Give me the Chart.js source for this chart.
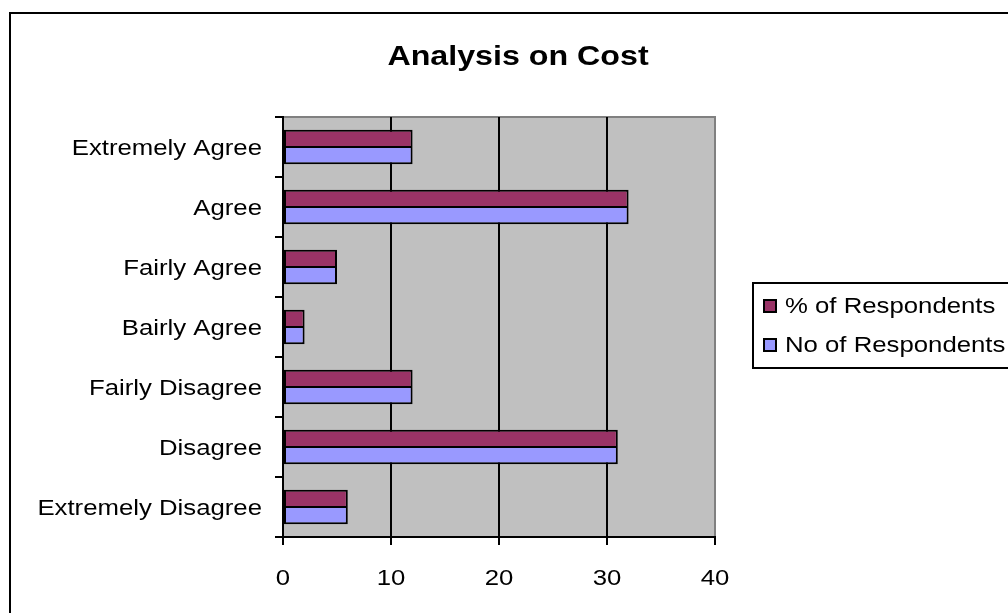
<!DOCTYPE html>
<html>
<head>
<meta charset="utf-8">
<title>Analysis on Cost</title>
<script src="https://cdn.jsdelivr.net/npm/chart.js@4.4.1/dist/chart.umd.min.js"></script>
<style>
  html, body { margin: 0; padding: 0; background: #ffffff; overflow: hidden; }
  #wrap { position: relative; width: 1008px; height: 613px; overflow: hidden; }
  #frame { position: absolute; left: 9px; top: 12px; width: 1200px; height: 800px;
           border: 2px solid #000; box-sizing: border-box; }
  canvas { position: absolute; left: 0; top: 0; }
</style>
</head>
<body>
<div id="wrap">
  <div id="frame"></div>
  <canvas id="c" width="1008" height="613"></canvas>
</div>
<script>
// Response categories, top to bottom
const categories = [
  'Extremely Agree', 'Agree', 'Fairly Agree', 'Bairly Agree',
  'Fairly Disagree', 'Disagree', 'Extremely Disagree'
];
// Series values
const pctRespondents = [12, 32, 5, 2, 12, 31, 6];
const noRespondents  = [12, 32, 5, 2, 12, 31, 6];
// Value axis tick labels
const xTicks = [0, 10, 20, 30, 40];

const chartTitle = 'Analysis on Cost';
const FONT = '"Liberation Sans", Arial, sans-serif';
const WIDE = 1.17;   // horizontal widening applied to all text

// Draw text widened horizontally around its anchor point
function wideText(ctx, text, x, y, align, sx) {
  ctx.save();
  ctx.translate(x, y);
  ctx.scale(sx, 1);
  ctx.textAlign = align;
  ctx.textBaseline = 'middle';
  ctx.fillText(text, 0, 0);
  ctx.restore();
}

// Grey plot background with a grey top edge
const plotBackground = {
  id: 'plotBackground',
  beforeDraw(chart) {
    const { ctx, chartArea: a } = chart;
    ctx.save();
    ctx.fillStyle = '#C0C0C0';
    ctx.fillRect(a.left, a.top, a.right - a.left, a.bottom - a.top);
    ctx.strokeStyle = '#808080';
    ctx.lineWidth = 2;
    ctx.beginPath();
    ctx.moveTo(a.left, a.top);
    ctx.lineTo(a.right + 1, a.top);
    ctx.stroke();
    ctx.restore();
  }
};

// Axis labels placed from the scales' own tick positions
const axisLabels = {
  id: 'axisLabels',
  afterDraw(chart) {
    const ctx = chart.ctx;
    const ys = chart.scales.y, xs = chart.scales.x;
    ctx.save();
    ctx.fillStyle = '#000';
    ctx.font = '22px ' + FONT;
    ys.ticks.forEach((t, i) => {
      wideText(ctx, ys.getLabelForValue(t.value), ys.right - 21, ys.getPixelForTick(i) + 2, 'right', WIDE);
    });
    xs.ticks.forEach((t, i) => {
      wideText(ctx, String(t.value), xs.getPixelForTick(i), xs.top + 42, 'center', WIDE);
    });
    ctx.restore();
  }
};

// Title text above the plot
const titleText = {
  id: 'titleText',
  afterDraw(chart) {
    const ctx = chart.ctx;
    ctx.save();
    ctx.fillStyle = '#000';
    ctx.font = 'bold 28px ' + FONT;
    wideText(ctx, chartTitle, 518, 57, 'center', 1.15);
    ctx.restore();
  }
};

// Boxed legend to the right of the plot, built from the datasets
const boxedLegend = {
  id: 'boxedLegend',
  afterDraw(chart) {
    const ctx = chart.ctx;
    const left = 753, top = 283, bottom = 368;
    ctx.save();
    ctx.strokeStyle = '#000';
    ctx.lineWidth = 2;
    ctx.strokeRect(left, top, 400, bottom - top);
    ctx.font = '22px ' + FONT;
    chart.data.datasets.forEach((ds, i) => {
      const cy = 306 + i * 39;
      ctx.fillStyle = ds.backgroundColor;
      ctx.fillRect(764, cy - 6, 12, 12);
      ctx.lineWidth = 2;
      ctx.strokeRect(764, cy - 6, 12, 12);
      ctx.fillStyle = '#000';
      wideText(ctx, ds.label, 785, cy + 1, 'left', WIDE);
    });
    ctx.restore();
  }
};

new Chart(document.getElementById('c'), {
  type: 'bar',
  data: {
    labels: categories,
    datasets: [
      {
        label: '% of Respondents',
        data: pctRespondents,
        backgroundColor: '#993366',
        borderColor: '#000',
        borderWidth: { top: 2, bottom: 1, left: 2, right: 2 },
        borderSkipped: false,
        categoryPercentage: 0.571,
        barPercentage: 1.0
      },
      {
        label: 'No of Respondents',
        data: noRespondents,
        backgroundColor: '#9999FF',
        borderColor: '#000',
        borderWidth: { top: 1, bottom: 2, left: 2, right: 2 },
        borderSkipped: false,
        categoryPercentage: 0.571,
        barPercentage: 1.0
      }
    ]
  },
  options: {
    indexAxis: 'y',
    responsive: false,
    animation: false,
    devicePixelRatio: 1,
    layout: { padding: { left: 0, right: 293, top: 117, bottom: 26 } },
    plugins: {
      legend: { display: false },
      title: { display: false },
      tooltip: { enabled: false }
    },
    scales: {
      x: {
        type: 'linear',
        min: xTicks[0],
        max: xTicks[xTicks.length - 1],
        afterBuildTicks(scale) { scale.ticks = xTicks.map(v => ({ value: v })); },
        afterFit(scale) { scale.height = 50; },
        grid: {
          color: ctx => (ctx.tick && ctx.tick.value === 40) ? '#808080' : '#000',
          lineWidth: 2,
          drawTicks: true,
          tickLength: 8,
          tickColor: '#000'
        },
        border: { display: true, color: '#000', width: 2 },
        ticks: { display: false }
      },
      y: {
        type: 'category',
        offset: true,
        afterFit(scale) { scale.width = 283; },
        grid: {
          display: true,
          offset: true,
          drawOnChartArea: false,
          drawTicks: true,
          tickLength: 8,
          color: '#000',
          lineWidth: 2
        },
        border: { display: true, color: '#000', width: 2 },
        ticks: { display: false }
      }
    }
  },
  plugins: [plotBackground, axisLabels, titleText, boxedLegend]
});
</script>
</body>
</html>
